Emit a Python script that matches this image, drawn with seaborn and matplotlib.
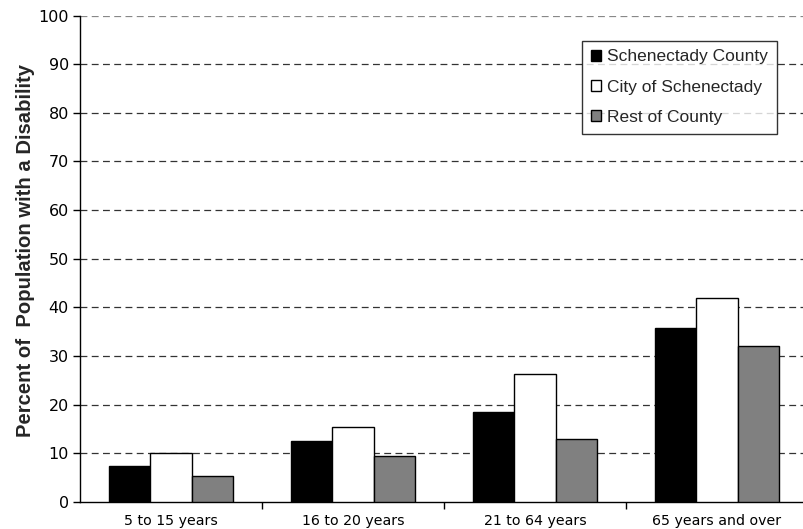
import matplotlib
matplotlib.use("Agg")
import matplotlib.pyplot as plt
import seaborn as sns
import pandas as pd
from matplotlib.ticker import FixedLocator

age_groups = ["5 to 15 years", "16 to 20 years", "21 to 64 years", "65 years and over"]
areas = ["Schenectady County", "City of Schenectady", "Rest of County"]
county = [7.3, 12.5, 18.6, 35.8]
city = [10.0, 15.4, 26.3, 41.9]
rest = [5.4, 9.5, 12.9, 32.1]
y_ticks = list(range(0, 101, 10))

df = pd.DataFrame({
    "age": age_groups * 3,
    "area": [areas[0]] * 4 + [areas[1]] * 4 + [areas[2]] * 4,
    "pct": county + city + rest,
})

sns.set_style("white")
plt.rcParams["font.family"] = ["DejaVu Sans"]

fig = plt.figure(figsize=(8.04, 5.29), dpi=100)
ax = fig.add_axes([80 / 804, 1 - 502 / 529, 728 / 804, 486.5 / 529])

palette = {areas[0]: "#000000", areas[1]: "#ffffff", areas[2]: "#808080"}
sns.barplot(data=df, x="age", y="pct", hue="area", order=age_groups,
            hue_order=areas, palette=palette, width=0.68, gap=0,
            edgecolor="#000000", linewidth=1.0, saturation=1, ax=ax,
            zorder=3)

ax.set_ylim(0, 100)
ax.set_xlim(-0.5, 3.5)
ax.set_yticks(y_ticks)
ax.set_yticklabels([str(v) for v in y_ticks], fontsize=11.5, color="#000000")
for v in y_ticks[1:]:
    ax.axhline(v, color="#333333" if v < 100 else "#888888",
               linestyle=(0, (5.5, 3.5)), linewidth=0.9, zorder=1)

ax.set_xticks(range(4))
ax.set_xticklabels(age_groups, fontsize=10.2, color="#000000")
ax.tick_params(axis="x", which="major", length=0, pad=9)
ax.xaxis.set_minor_locator(FixedLocator([0.5, 1.5, 2.5]))
ax.tick_params(axis="x", which="minor", length=5, width=1, color="#000000",
               direction="out", bottom=True)
ax.tick_params(axis="y", length=5, width=1, color="#000000",
               direction="out", left=True, pad=3)

for side in ["top", "right"]:
    ax.spines[side].set_visible(False)
for side in ["left", "bottom"]:
    ax.spines[side].set_color("#000000")
    ax.spines[side].set_linewidth(1.0)

ax.set_xlabel("")
ax.set_ylabel("Percent of  Population with a Disability", fontsize=14.6,
              fontweight="bold", family=["Liberation Sans"])
ax.yaxis.set_label_coords(-0.0618, 0.516)

leg = ax.legend(loc="upper right", bbox_to_anchor=(0.957, 0.948),
                frameon=True, fancybox=False, edgecolor="#000000",
                prop={"family": "Liberation Sans", "size": 12.5},
                handlelength=0.6, handleheight=0.6, handletextpad=0.35,
                labelspacing=0.88, borderpad=0.5, borderaxespad=0)
leg.get_frame().set_linewidth(1.0)
leg.set_zorder(5)

fig.savefig("out.png", dpi=100)
